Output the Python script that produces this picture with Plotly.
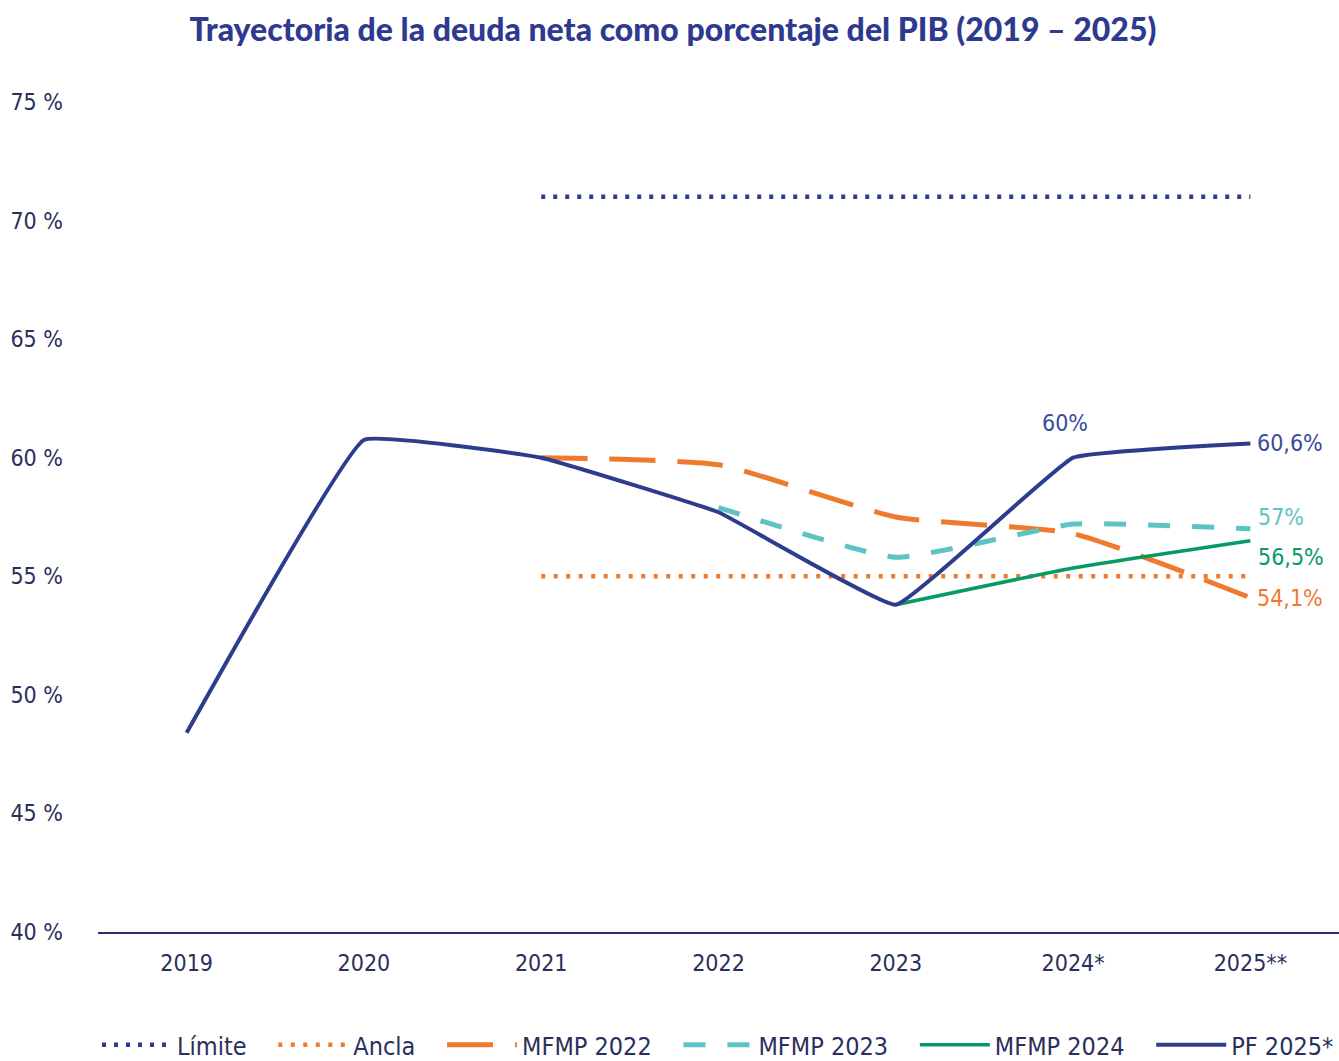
import plotly.graph_objects as go

categories = ["2019", "2020", "2021", "2022", "2023", "2024*", "2025**"]

pf_2025 = [48.4, 60.75, 60.0, 57.7, 53.8, 60.0, 60.6]
mfmp_2022 = [None, None, 60.0, 59.7, 57.5, 56.8, 54.1]
mfmp_2023 = [None, None, None, 57.9, 55.8, 57.2, 57.0]
mfmp_2024 = [None, None, None, None, 53.8, 55.35, 56.5]
limite = [None, None, 71.0, 71.0, 71.0, 71.0, 71.0]
ancla = [None, None, 55.0, 55.0, 55.0, 55.0, 55.0]

y_ticks = [40, 45, 50, 55, 60, 65, 70, 75]
y_ticktext = ["40 %", "45 %", "50 %", "55 %", "60 %", "65 %", "70 %", "75 %"]

end_labels = ["60,6%", "57%", "56,5%", "54,1%"]
peak_label = "60%"

NAVY = "#2E3C8E"
ORANGE = "#EF7A2D"
TEAL = "#5EC3C3"
GREEN = "#069B63"
TEXT = "#2A2F5C"
FONT = "Liberation Sans Narrow, DejaVu Sans Condensed, Roboto"
PAD = "\u00a0\u00a0\u2004"

fig = go.Figure()

fig.add_trace(go.Scatter(x=categories, y=limite, name="Límite" + PAD, mode="lines",
                         line=dict(color=NAVY, width=4.5, dash="4px,8px")))
fig.add_trace(go.Scatter(x=categories, y=ancla, name="Ancla" + PAD, mode="lines",
                         line=dict(color=ORANGE, width=4.5, dash="4px,8.5px")))
fig.add_trace(go.Scatter(x=categories, y=mfmp_2022, name="MFMP 2022" + PAD, mode="lines",
                         line=dict(color=ORANGE, width=5, dash="46px,22px", shape="spline", smoothing=0.5)))
fig.add_trace(go.Scatter(x=categories, y=mfmp_2023, name="MFMP 2023" + PAD, mode="lines",
                         line=dict(color=TEAL, width=5, dash="22px,22px", shape="spline", smoothing=0.4)))
fig.add_trace(go.Scatter(x=categories, y=mfmp_2024, name="MFMP 2024" + PAD, mode="lines",
                         line=dict(color=GREEN, width=3.5, shape="spline", smoothing=0.4)))
fig.add_trace(go.Scatter(x=categories, y=pf_2025, name="PF 2025*", mode="lines",
                         line=dict(color=NAVY, width=4, shape="spline", smoothing=0.25)))

ann_font = dict(family=FONT, size=23)
fig.add_annotation(x=categories[5], y=pf_2025[5], text=peak_label, showarrow=False,
                   yshift=35, xshift=-8, font=dict(ann_font, color="#3A4A9C"))
fig.add_annotation(x=categories[6], y=pf_2025[6], text=end_labels[0], showarrow=False,
                   xanchor="left", xshift=5, font=dict(ann_font, color="#3A4A9C"))
fig.add_annotation(x=categories[6], y=mfmp_2023[6], text=end_labels[1], showarrow=False,
                   xanchor="left", xshift=6, yshift=12, font=dict(ann_font, color="#5EC3C3"))
fig.add_annotation(x=categories[6], y=mfmp_2024[6], text=end_labels[2], showarrow=False,
                   xanchor="left", xshift=6, yshift=-16, font=dict(ann_font, color=GREEN))
fig.add_annotation(x=categories[6], y=mfmp_2022[6], text=end_labels[3], showarrow=False,
                   xanchor="left", xshift=5, yshift=0, font=dict(ann_font, color=ORANGE))

fig.update_layout(
    width=1339, height=1061,
    autosize=False,
    margin=dict(l=98, r=0, t=102, b=129),
    paper_bgcolor="white", plot_bgcolor="white",
    font=dict(family=FONT, size=23, color=TEXT),
    title=dict(text="Trayectoria de la deuda neta como porcentaje del PIB (2019 – 2025)",
               font=dict(family="Lato", size=32, color="#2E3A8F", weight=900),
               x=673 / 1339, xanchor="center", y=1 - 30 / 1061, yanchor="middle", yref="container"),
    xaxis=dict(type="category", range=[-0.5, 6.5], showgrid=False, zeroline=False,
               showline=True, linecolor="#2A2F6B", linewidth=2, ticks="",
               ticklabelstandoff=9, tickfont=dict(size=23, color=TEXT)),
    yaxis=dict(range=[40, 75], tickvals=y_ticks, ticktext=y_ticktext, showgrid=False,
               zeroline=False, showline=False, ticks="", ticklabelstandoff=34,
               tickfont=dict(size=23, color=TEXT)),
    showlegend=True,
    legend=dict(orientation="h", x=0, xanchor="left", y=1 - 1045 / 1061, yanchor="middle",
                yref="container", font=dict(size=25, color=TEXT), itemwidth=70, tracegroupgap=0),
)

fig.write_html("out.html", config={"displayModeBar": False},
               post_script="document.body.style.margin='0';")
